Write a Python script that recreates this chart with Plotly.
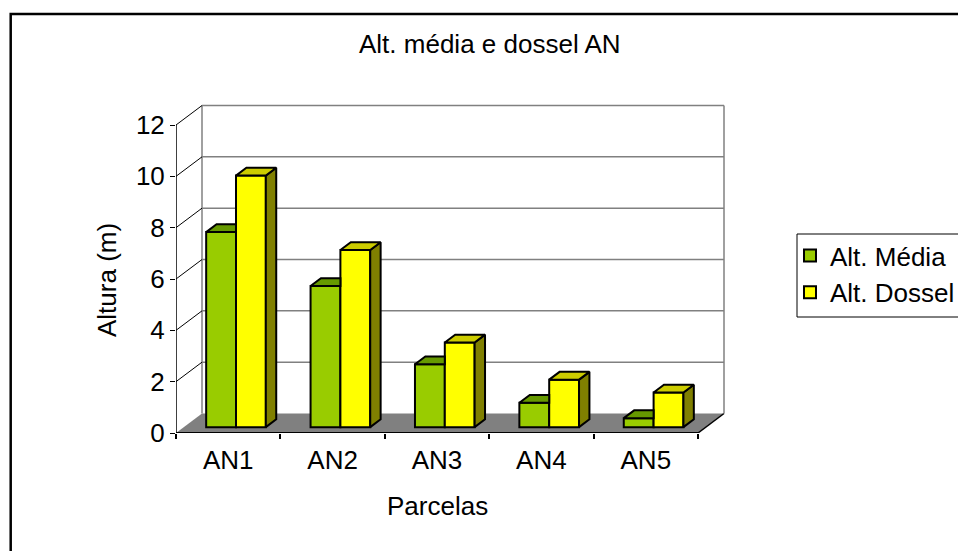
import plotly.graph_objects as go

# ---- data -------------------------------------------------------------
categories = ["AN1", "AN2", "AN3", "AN4", "AN5"]
alt_media = [7.6, 5.5, 2.45, 0.95, 0.35]
alt_dossel = [9.8, 6.9, 3.3, 1.85, 1.35]
series_names = ["Alt. Média", "Alt. Dossel"]
y_tick_values = [0, 2, 4, 6, 8, 10, 12]

# ---- styling ----------------------------------------------------------
FONT = "Liberation Sans, Arial, sans-serif"
FS = 26
front_colors = ["#99CC00", "#FFFF00"]
top_colors = ["#669900", "#CCCC00"]
side_colors = ["#669900", "#808000"]
FLOOR = "#808080"
GRID = "#808080"

W, H = 958, 551
L, R, T, B = 176, 728, 100, 433          # plot-area edges in pixels
X_PX = 104.4                               # pixels per category
Y_PX = 308 / 12                            # pixels per value unit

n = len(categories)
x_lo, x_hi = -0.5, n - 0.5
x_range = [x_lo, x_lo + (R - L) / X_PX]
y_range = [0, (B - T) / Y_PX]

# oblique depth vector (whole floor depth), in axis units
DX = 26 / X_PX
DY = 19.5 / Y_PX
front_frac, depth_frac = 0.3, 0.4        # bar position within the depth
bar_w = 1 / 3.5                          # 150 % gap width, two series
y_max = max(y_tick_values)


def px_x(px):
    return (px - L) / (R - L)


def px_y(py):
    return (B - py) / (B - T)


fig = go.Figure()
shapes = []

# floor
shapes.append(dict(
    type="path", layer="below", xref="x", yref="y",
    path=f"M{x_lo},0 L{x_hi},0 L{x_hi + DX},{DY} L{x_lo + DX},{DY} Z",
    fillcolor=FLOOR, line=dict(width=0)))
# floor right edge
shapes.append(dict(type="line", layer="below", xref="x", yref="y",
                   x0=x_hi, y0=0, x1=x_hi + DX, y1=DY,
                   line=dict(color="#000000", width=1.5)))

# back wall gridlines and edges
for v in y_tick_values[1:]:
    shapes.append(dict(type="line", layer="below", xref="x", yref="y",
                       x0=x_lo + DX, y0=v + DY, x1=x_hi + DX, y1=v + DY,
                       line=dict(color=GRID, width=1.5)))
for xe in (x_lo + DX, x_hi + DX):
    shapes.append(dict(type="line", layer="below", xref="x", yref="y",
                       x0=xe, y0=DY, x1=xe, y1=y_max + DY,
                       line=dict(color=GRID, width=1.5)))

# side wall diagonals from each value tick
for v in y_tick_values[1:]:
    shapes.append(dict(type="line", layer="below", xref="x", yref="y",
                       x0=x_lo, y0=v, x1=x_lo + DX, y1=v + DY,
                       line=dict(color="#000000", width=1)))

# front value axis and category axis lines
shapes.append(dict(type="line", layer="above", xref="x", yref="y",
                   x0=x_lo, y0=0, x1=x_lo, y1=y_max,
                   line=dict(color="#000000", width=1.5)))
shapes.append(dict(type="line", layer="above", xref="x", yref="y",
                   x0=x_lo, y0=0, x1=x_hi, y1=0,
                   line=dict(color="#000000", width=2)))

# chart frame
shapes.append(dict(type="rect", xref="paper", yref="paper",
                   x0=px_x(10.7), y0=px_y(14), x1=px_x(1000), y1=px_y(620),
                   line=dict(color="#000000", width=2.5), fillcolor="rgba(0,0,0,0)"))

# legend frame
shapes.append(dict(type="rect", xref="paper", yref="paper",
                   x0=px_x(797), y0=px_y(234), x1=px_x(1000), y1=px_y(317),
                   line=dict(color="#000000", width=1), fillcolor="rgba(0,0,0,0)"))

# ---- bars -------------------------------------------------------------
all_series = [alt_media, alt_dossel]
base = front_frac * DY
ddx, ddy = depth_frac * DX, depth_frac * DY
idx = list(range(n))

for s, vals in enumerate(all_series):
    centers = [i + (s - 0.5) * bar_w + front_frac * DX for i in idx]
    fig.add_trace(go.Bar(
        x=centers, y=vals, base=[base] * n, width=bar_w,
        name=series_names[s],
        marker=dict(color=front_colors[s], line=dict(color="#000000", width=2)),
        hoverinfo="skip"))

for i in idx:
    for s, vals in enumerate(all_series):
        v = vals[i]
        xl = i + (s - 1) * bar_w + front_frac * DX
        xr = xl + bar_w
        top = base + v
        hidden = s + 1 < len(all_series) and all_series[s + 1][i] >= v
        if hidden:
            tx = [xl, xr, xr, xl + ddx, xl]
            ty = [top, top, top + ddy, top + ddy, top]
        else:
            tx = [xl, xr, xr + ddx, xl + ddx, xl]
            ty = [top, top, top + ddy, top + ddy, top]
            fig.add_trace(go.Scatter(
                x=[xr, xr + ddx, xr + ddx, xr, xr],
                y=[base, base + ddy, top + ddy, top, base],
                mode="lines", fill="toself", fillcolor=side_colors[s],
                line=dict(color="#000000", width=2),
                showlegend=False, hoverinfo="skip"))
        fig.add_trace(go.Scatter(
            x=tx, y=ty, mode="lines", fill="toself", fillcolor=top_colors[s],
            line=dict(color="#000000", width=2),
            showlegend=False, hoverinfo="skip"))

# ---- layout -----------------------------------------------------------
annotations = [
    dict(text="Alt. média e dossel AN", x=px_x(490), y=px_y(44)),
    dict(text="Altura (m)", x=px_x(107), y=px_y(280), textangle=-90),
    dict(text="Parcelas", x=px_x(437), y=px_y(506)),
]
for a in annotations:
    a.update(xref="paper", yref="paper", showarrow=False,
             xanchor="center", yanchor="middle",
             font=dict(family=FONT, size=FS, color="#000000"))

fig.update_layout(
    width=W, height=H,
    margin=dict(l=L, r=W - R, t=T, b=H - B, autoexpand=False),
    paper_bgcolor="#FFFFFF", plot_bgcolor="#FFFFFF",
    font=dict(family=FONT, size=FS, color="#000000"),
    barmode="overlay",
    shapes=shapes,
    annotations=annotations,
    showlegend=True,
    legend=dict(x=px_x(790), y=px_y(232), xanchor="left", yanchor="top",
                borderwidth=0, bgcolor="rgba(0,0,0,0)",
                font=dict(family=FONT, size=FS, color="#000000"),
                traceorder="normal"),
    xaxis=dict(range=x_range, tickvals=idx, ticktext=categories,
               ticks="", showgrid=False, zeroline=False, showline=False,
               ticklabelstandoff=9,
               minor=dict(tickvals=[i - 0.5 for i in range(n + 1)],
                          ticks="outside", ticklen=5, tickcolor="#000000",
                          tickwidth=1.5, showgrid=False),
               fixedrange=True),
    yaxis=dict(range=y_range, tickvals=y_tick_values, ticks="outside",
               ticklen=5, tickcolor="#000000", tickwidth=1,
               showgrid=False, zeroline=False, showline=False,
               fixedrange=True),
)

fig.write_html("out.html")
